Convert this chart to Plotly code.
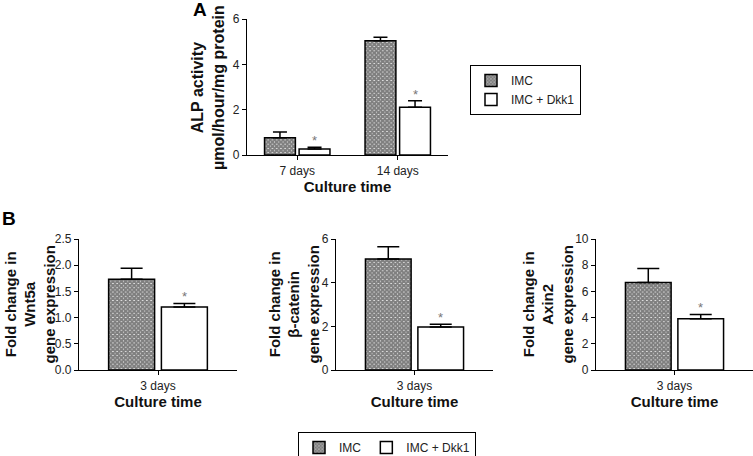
import plotly.graph_objects as go

# ---------------- data ----------------
groups_a = ["7 days", "14 days"]
imc_a = [0.76, 5.04]
imc_a_err = [0.25, 0.16]
dkk_a = [0.27, 2.11]
dkk_a_err = [0.07, 0.28]

group_b = ["3 days"]
genes_b = ["Wnt5a", "β-catenin", "Axin2"]
imc_b = [1.73, 5.08, 6.68]
imc_b_err = [0.21, 0.57, 1.07]
dkk_b = [1.20, 1.97, 3.92]
dkk_b_err = [0.07, 0.12, 0.32]
yrange_b = [2.5, 6, 10]
ydtick_b = [0.5, 2, 2]

series_names = ["IMC", "IMC + Dkk1"]

FONT = "Arial, Liberation Sans, sans-serif"
W, H = 753, 456

fig = go.Figure()

imc_marker = dict(color="white", line=dict(color="black", width=1.5),
                  pattern=dict(shape="x", fgcolor="#000000", bgcolor="white",
                               size=3, solidity=0.9))
dkk_marker = dict(color="white", line=dict(color="black", width=1.5))


def err(vals):
    return dict(type="data", array=vals, arrayminus=[0] * len(vals), symmetric=False,
                color="black", thickness=1.5)


# ---------------- panel A ----------------
fig.add_trace(go.Bar(x=groups_a, y=imc_a, name=series_names[0], marker=imc_marker,
                     error_y=dict(err(imc_a_err), width=7), xaxis="x", yaxis="y",
                     legend="legend", width=0.307, offset=-0.3255))
fig.add_trace(go.Bar(x=groups_a, y=dkk_a, name=series_names[1], marker=dkk_marker,
                     error_y=dict(err(dkk_a_err), width=7), xaxis="x", yaxis="y",
                     legend="legend", width=0.307, offset=0.0185))

# ---------------- panel B ----------------
for i in range(3):
    xa = "x%d" % (i + 2)
    ya = "y%d" % (i + 2)
    fig.add_trace(go.Bar(x=group_b, y=[imc_b[i]], name=series_names[0], marker=imc_marker,
                         error_y=dict(err([imc_b_err[i]]), width=11), xaxis=xa, yaxis=ya,
                         legend="legend2", showlegend=(i == 0), width=0.291, offset=-0.3125))
    fig.add_trace(go.Bar(x=group_b, y=[dkk_b[i]], name=series_names[1], marker=dkk_marker,
                         error_y=dict(err([dkk_b_err[i]]), width=11), xaxis=xa, yaxis=ya,
                         legend="legend2", showlegend=(i == 0), width=0.291, offset=0.0215))

axis_common = dict(showline=True, linecolor="black", linewidth=1.2, ticks="outside",
                   ticklen=4, tickcolor="black", showgrid=False, zeroline=False,
                   tickfont=dict(family=FONT, size=12, color="#222"))

ydom_a = [1 - 155 / H, 1 - 19 / H]
ydom_b = [1 - 370 / H, 1 - 239 / H]
xdoms_b = [[79 / W, 237 / W], [336 / W, 493 / W], [596 / W, 1.0]]

layout = dict(
    width=W, height=H, margin=dict(l=0, r=0, t=0, b=0, autoexpand=False),
    paper_bgcolor="white", plot_bgcolor="white",
    barmode="group",
    font=dict(family=FONT, color="#222"),
    xaxis=dict(axis_common, domain=[247 / W, 448 / W], anchor="y", range=[-0.5, 1.5],
               title=dict(text="<b>Culture time</b>", font=dict(size=15, color="#111"), standoff=4)),
    yaxis=dict(axis_common, domain=ydom_a, anchor="x", range=[0, 6], dtick=2),
)
for i in range(3):
    layout["xaxis%d" % (i + 2)] = dict(axis_common, domain=xdoms_b[i], anchor="y%d" % (i + 2),
                                       range=[-0.5, 0.5],
                                       title=dict(text="<b>Culture time</b>",
                                                  font=dict(size=15, color="#111"), standoff=3))
    layout["yaxis%d" % (i + 2)] = dict(axis_common, domain=ydom_b, anchor="x%d" % (i + 2),
                                       range=[0, yrange_b[i]], dtick=ydtick_b[i],
                                       tickformat=".1f" if i == 0 else "d")
fig.update_layout(**layout)

# legends
legend_font = dict(family=FONT, size=12, color="#222")
fig.update_layout(
    legend=dict(x=470 / W, y=1 - 65 / H, xanchor="left", yanchor="top",
                bordercolor="black", borderwidth=1, font=legend_font,
                tracegroupgap=0, bgcolor="white", itemwidth=30),
    legend2=dict(x=298 / W, y=1 - 432 / H, xanchor="left", yanchor="top",
                 orientation="h", bordercolor="black", borderwidth=1, font=legend_font,
                 bgcolor="white", itemwidth=30),
)

ann = []
# panel letters
ann.append(dict(text="<b>A</b>", x=191 / W, y=1.0, xref="paper", yref="paper",
                xanchor="left", yanchor="top", showarrow=False,
                font=dict(family=FONT, size=19, color="black"), yshift=3))
ann.append(dict(text="<b>B</b>", x=0, y=1 - 218 / H, xref="paper", yref="paper",
                xanchor="left", yanchor="middle", showarrow=False,
                font=dict(family=FONT, size=19, color="black")))

# y titles
ann.append(dict(text="<b>ALP activity<br>µmol/hour/mg protein</b>", x=208 / W,
                y=(ydom_a[0] + ydom_a[1]) / 2, xref="paper", yref="paper", textangle=-90,
                showarrow=False, font=dict(family=FONT, size=16, color="#111"),
                xanchor="center", yanchor="middle"))
ycb = (ydom_b[0] + ydom_b[1]) / 2
for cx, g in zip([29, 293, 547], genes_b):
    ann.append(dict(text="<b>Fold change in<br>%s<br>gene expression</b>" % g, x=cx / W,
                    y=ycb, xref="paper", yref="paper", textangle=-90, showarrow=False,
                    font=dict(family=FONT, size=15, color="#111"),
                    xanchor="center", yanchor="middle"))

# asterisks above Dkk1 bars
star_font = dict(family=FONT, size=13, color="#777")
for j in range(2):
    ann.append(dict(text="*", x=j + 0.0185 + 0.307 / 2, y=dkk_a[j] + dkk_a_err[j],
                    xref="x", yref="y", showarrow=False, yanchor="bottom",
                    font=star_font, yshift=-3))
for i in range(3):
    ann.append(dict(text="*", x=0.0215 + 0.291 / 2, y=dkk_b[i] + dkk_b_err[i],
                    xref="x%d" % (i + 2), yref="y%d" % (i + 2), showarrow=False,
                    yanchor="bottom", font=star_font, yshift=-3))
fig.update_layout(annotations=ann)

fig.write_html("out.html", config={"displayModeBar": False},
               post_script="document.body.style.margin='0';document.body.style.overflow='hidden';")
